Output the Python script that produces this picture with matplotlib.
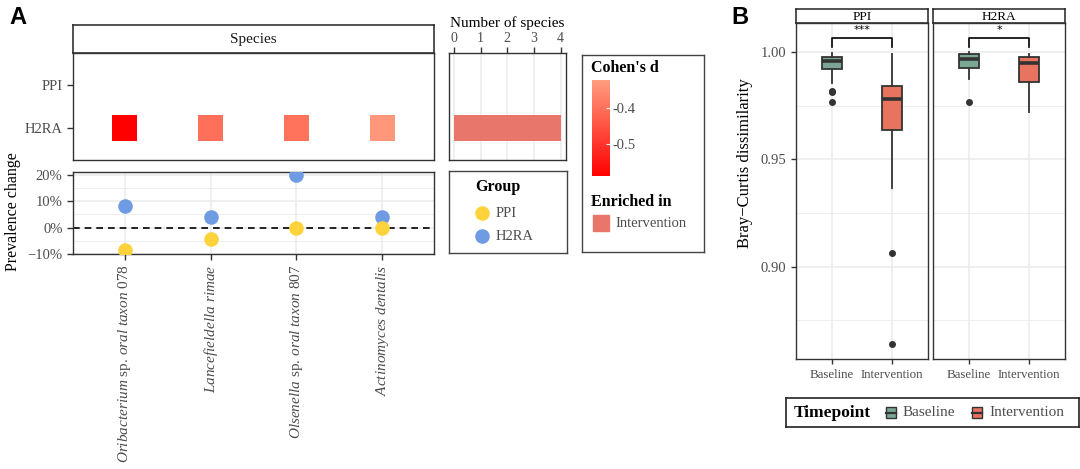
import matplotlib
matplotlib.use("Agg")
import matplotlib.pyplot as plt
import numpy as np
from matplotlib.colors import LinearSegmentedColormap, Normalize
from matplotlib.patches import Rectangle

plt.rcParams["font.family"] = ["Liberation Serif", "DejaVu Serif"]
plt.rcParams["mathtext.fontset"] = "custom"
plt.rcParams["mathtext.rm"] = "Liberation Serif"
plt.rcParams["mathtext.it"] = "Liberation Serif:italic"

# ---- datos panel A ----
species = [r"$\mathit{Oribacterium}$ sp. $\mathit{oral\ taxon\ 078}$",
           r"$\mathit{Lancefieldella\ rimae}$",
           r"$\mathit{Olsenella}$ sp. $\mathit{oral\ taxon\ 807}$",
           r"$\mathit{Actinomyces\ dentalis}$"]
groups = ["PPI", "H2RA"]
cohens_d_h2ra = [-0.589, -0.40, -0.395, -0.335]
prev_ppi = [-8.5, -4.3, 0.0, 0.0]
prev_h2ra = [8.3, 4.2, 20.0, 4.2]
n_species = [0, 4]           # PPI, H2RA
d_ticks = [-0.4, -0.5]

# ---- datos panel B (estadisticos de boxplot) ----
facets = ["PPI", "H2RA"]
timepoints = ["Baseline", "Intervention"]
box_stats = {
    "PPI": [
        dict(whislo=0.9855, q1=0.9921, med=0.9960, q3=0.9978, whishi=0.9995,
             fliers=[0.9813, 0.9820, 0.9766]),
        dict(whislo=0.9366, q1=0.9636, med=0.9780, q3=0.9842, whishi=0.9989,
             fliers=[0.9064, 0.8639]),
    ],
    "H2RA": [
        dict(whislo=0.9873, q1=0.9926, med=0.9969, q3=0.9989, whishi=0.9998,
             fliers=[0.9766]),
        dict(whislo=0.9722, q1=0.9862, med=0.9947, q3=0.9975, whishi=0.9989,
             fliers=[]),
    ],
}
signif = {"PPI": "***", "H2RA": "*"}

W, H = 1080, 469
fig = plt.figure(figsize=(W / 100, H / 100), dpi=100)

def px(x0, y0, x1, y1):
    return [x0 / W, 1 - y1 / H, (x1 - x0) / W, (y1 - y0) / H]

GRID = "#EBEBEB"
EDGE = "#333333"
TXT = "#4D4D4D"
ENRICH = "#E8766A"
cmap = LinearSegmentedColormap.from_list("cd", ["#FF0000", "#FF9E80"])
norm = Normalize(vmin=-0.589, vmax=-0.322)

def frame(ax, color=EDGE, lw=1.0):
    for s in ax.spines.values():
        s.set_color(color)
        s.set_linewidth(lw)

fig.text(18 / W, 1 - 18 / H, "A", family="Liberation Sans", weight="bold",
         fontsize=17, ha="center", va="center")
fig.text(740 / W, 1 - 17 / H, "B", family="Liberation Sans", weight="bold",
         fontsize=17, ha="center", va="center")

# ---- strip "Species" ----
ax_s = fig.add_axes(px(73, 25, 434, 53))
ax_s.set_xticks([]); ax_s.set_yticks([])
frame(ax_s, "#222222", 1.1)
ax_s.text(0.5, 0.5, "Species", ha="center", va="center", fontsize=11,
          transform=ax_s.transAxes, color="#1A1A1A")

# ---- heatmap ----
x = np.arange(len(species))
ax_h = fig.add_axes(px(73, 53, 434, 160))
ax_h.bar(x, 0.6, bottom=np.ones(len(x)) - 0.3, width=0.29,
         color=cmap(norm(np.array(cohens_d_h2ra))))
ax_h.set_xlim(-0.6, 3.6)
ax_h.set_ylim(1.74, -0.74)
ax_h.set_yticks(range(len(groups)))
ax_h.set_yticklabels(groups, fontsize=10.5, color=TXT)
ax_h.set_xticks([])
ax_h.tick_params(axis="y", length=4, width=1, color=EDGE)
frame(ax_h)

# ---- prevalence change ----
ax_p = fig.add_axes(px(73, 172, 434, 254))
ax_p.set_xlim(-0.6, 3.6)
ax_p.set_ylim(-10, 21.1)
ax_p.set_yticks([-10, 0, 10, 20])
ax_p.set_yticks([-5, 5, 15], minor=True)
ax_p.set_yticklabels(["\u221210%", "0%", "10%", "20%"], fontsize=10.5, color=TXT)
ax_p.set_xticks(x)
ax_p.set_xticklabels(species, rotation=90, fontsize=11, color=TXT)
ax_p.tick_params(axis="both", which="major", length=4, width=1, color=EDGE)
ax_p.tick_params(axis="y", which="minor", length=0)
ax_p.grid(True, which="major", color=GRID, lw=1.1)
ax_p.grid(True, which="minor", axis="y", color=GRID, lw=0.6)
ax_p.set_axisbelow(True)
ax_p.axhline(0, color="black", lw=1.2, ls=(0, (4, 3)), zorder=2)
ax_p.scatter(x, prev_h2ra, s=110, color="#6F9BE3", zorder=3, lw=0)
ax_p.scatter(x, prev_ppi, s=110, color="#FDD33C", zorder=3, lw=0)
frame(ax_p)
fig.text(13 / W, 1 - 212 / H, "Prevalence change", rotation=90, fontsize=11.5,
         ha="center", va="center")

# ---- number of species ----
ax_n = fig.add_axes(px(449, 53, 566, 160))
ax_n.barh(range(len(groups)), n_species, height=0.6, color=ENRICH)
ax_n.set_xlim(-0.19, 4.2)
ax_n.set_ylim(1.74, -0.74)
ax_n.set_yticks([])
ax_n.xaxis.tick_top()
ax_n.xaxis.set_label_position("top")
ax_n.set_xticks(range(5))
ax_n.set_xticklabels([str(i) for i in range(5)], fontsize=10, color=TXT)
ax_n.tick_params(axis="x", length=4, width=1, color=EDGE, pad=2)
ax_n.set_xlabel("Number of species", fontsize=11, labelpad=3)
ax_n.grid(True, axis="x", color=GRID, lw=1.1)
ax_n.set_axisbelow(True)
frame(ax_n)

# ---- leyenda Group ----
ax_g = fig.add_axes(px(449, 171, 567, 253))
ax_g.set_xlim(0, 118); ax_g.set_ylim(82, 0)
ax_g.set_xticks([]); ax_g.set_yticks([])
frame(ax_g, "#444444", 1.0)
ax_g.text(26, 16, "Group", fontsize=11.5, weight="bold", va="center")
for yy, lab, col in [(42, "PPI", "#FDD33C"), (65, "H2RA", "#6F9BE3")]:
    ax_g.scatter([33], [yy], s=110, color=col, lw=0)
    ax_g.text(47, yy, lab, fontsize=10.5, va="center", color=TXT)

# ---- leyenda Cohen's d / Enriched in ----
ax_c = fig.add_axes(px(582, 55, 704, 252))
ax_c.set_xlim(0, 122); ax_c.set_ylim(197, 0)
ax_c.set_xticks([]); ax_c.set_yticks([])
frame(ax_c, "#444444", 1.0)
ax_c.text(9, 13, "Cohen's d", fontsize=11.5, weight="bold", va="center")
ax_c.text(9, 147, "Enriched in", fontsize=11.5, weight="bold", va="center")
ax_c.add_patch(Rectangle((11, 160), 16, 16, color=ENRICH))
ax_c.text(33, 168, "Intervention", fontsize=10.5, va="center", color=TXT)

cax = fig.add_axes(px(592, 80, 610, 176))
sm = plt.cm.ScalarMappable(norm=norm, cmap=cmap)
cb = fig.colorbar(sm, cax=cax)
cb.outline.set_visible(False)
cb.set_ticks(d_ticks)
cb.set_ticklabels([f"{t:.1f}" for t in d_ticks])
cax.tick_params(length=3, width=0.8, color="white", direction="in",
                labelsize=10.5, labelcolor=TXT, pad=2)

# ---- panel B ----
box_cols = ["#7AA694", "#E8735F"]
strip_x = {"PPI": (796, 928), "H2RA": (933, 1065)}
for i, fac in enumerate(facets):
    x0, x1 = strip_x[fac]
    ax_st = fig.add_axes(px(x0, 9, x1, 23))
    ax_st.set_xticks([]); ax_st.set_yticks([])
    frame(ax_st, "#222222", 1.1)
    ax_st.text(0.5, 0.45, fac, ha="center", va="center", fontsize=9.5,
               transform=ax_st.transAxes)

    ax = fig.add_axes(px(x0, 23, x1, 359))
    stats = [dict(s, label=t) for s, t in zip(box_stats[fac], timepoints)]
    bp = ax.bxp(stats, positions=[1, 2], widths=0.33, showcaps=False,
                patch_artist=True,
                boxprops=dict(edgecolor=EDGE, linewidth=1.3),
                medianprops=dict(color=EDGE, linewidth=2.6),
                whiskerprops=dict(color=EDGE, linewidth=1.3),
                flierprops=dict(marker="o", markerfacecolor=EDGE,
                                markeredgecolor=EDGE, markersize=4))
    for patch, col in zip(bp["boxes"], box_cols):
        patch.set_facecolor(col)
    ax.set_xlim(0.4, 2.6)
    ax.set_ylim(0.857, 1.0135)
    ax.set_yticks([0.90, 0.95, 1.00])
    ax.set_yticks([0.875, 0.925, 0.975], minor=True)
    ax.grid(True, which="major", color=GRID, lw=1.1)
    ax.grid(True, which="minor", axis="y", color=GRID, lw=0.6)
    ax.set_axisbelow(True)
    ax.set_xticklabels(timepoints, fontsize=9.3, color=TXT)
    ax.tick_params(axis="both", which="major", length=3.5, width=1, color=EDGE)
    ax.tick_params(axis="y", which="minor", length=0)
    if i == 0:
        ax.set_yticklabels(["0.90", "0.95", "1.00"], fontsize=10.5, color=TXT)
    else:
        ax.tick_params(axis="y", which="major", length=0, labelleft=False)
    # corchete de significancia
    ax.plot([1, 1, 2, 2], [1.0023, 1.0065, 1.0065, 1.0023], color="black", lw=1.2)
    ax.text(1.5, 1.0078, signif[fac], ha="center", va="bottom", fontsize=8,
            family="DejaVu Sans")
    frame(ax)

fig.text(745 / W, 1 - 163 / H, "Bray\u2212Curtis dissimilarity", rotation=90,
         fontsize=12, ha="center", va="center")

# ---- leyenda Timepoint ----
ax_t = fig.add_axes(px(786, 398, 1079, 427))
ax_t.set_xlim(786, 1079); ax_t.set_ylim(427, 398)
ax_t.set_xticks([]); ax_t.set_yticks([])
frame(ax_t, "#222222", 1.2)
ax_t.text(794, 412.5, "Timepoint", fontsize=12.5, weight="bold", va="center")
for kx, lab, col in [(886, "Baseline", box_cols[0]), (972, "Intervention", box_cols[1])]:
    ax_t.add_patch(Rectangle((kx, 407), 10, 11, facecolor=col, edgecolor=EDGE, lw=1))
    ax_t.plot([kx, kx + 10], [412.5, 412.5], color=EDGE, lw=1.6)
    ax_t.text(kx + 17, 412, lab, fontsize=11, va="center", color=TXT)

fig.savefig("out.png", dpi=100)
